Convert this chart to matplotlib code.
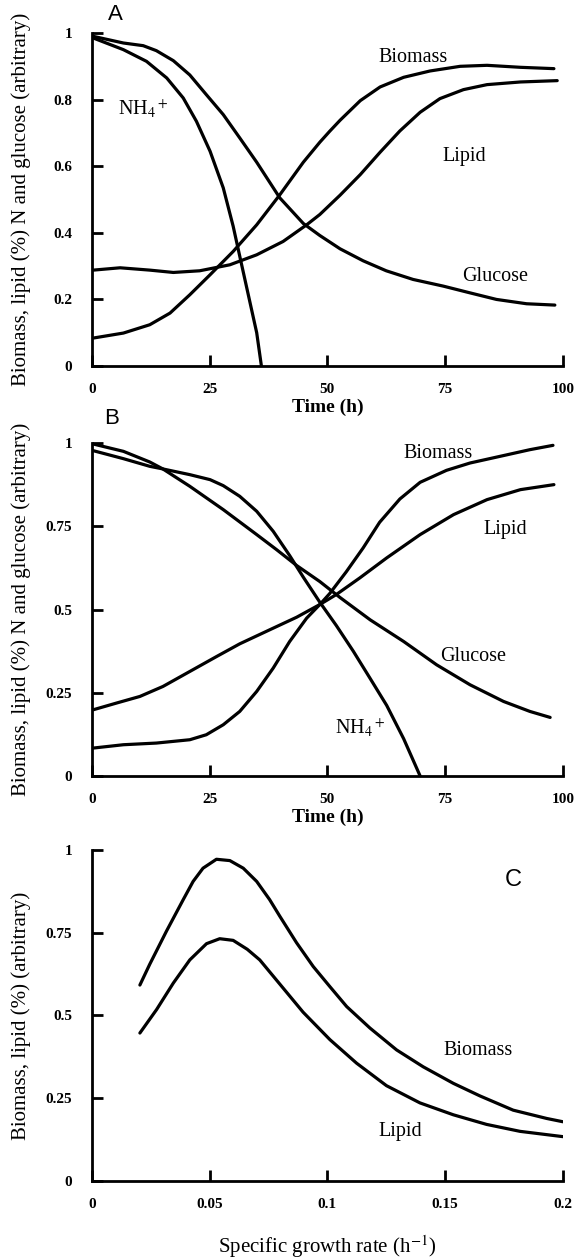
import matplotlib
matplotlib.use("Agg")
import matplotlib.pyplot as plt

plt.rcParams['font.family'] = ['Liberation Serif', 'DejaVu Serif']
plt.rcParams['mathtext.fontset'] = 'stix'

# panel A: batch culture (time in h)
a_nh4_t = [0.3, 6.7, 11.6, 15.9, 19.4, 22.2, 25.1, 27.9, 30.0, 31.4, 33.2, 35.0, 36.0]
a_nh4 = [0.985, 0.95, 0.915, 0.865, 0.805, 0.735, 0.645, 0.535, 0.42, 0.33, 0.215, 0.10, 0.0]
a_glu_t = [0.3, 6.7, 10.9, 13.7, 17.3, 20.8, 24.3, 27.9, 31.4, 35.0, 39.9, 44.9, 48.4, 52.7, 57.6,
           62.5, 68.2, 74.6, 80.2, 85.9, 92.3, 98.3]
a_glu = [0.99, 0.97, 0.962, 0.947, 0.917, 0.874, 0.815, 0.755, 0.685, 0.612, 0.505, 0.428, 0.392, 0.352, 0.316,
         0.286, 0.26, 0.24, 0.22, 0.20, 0.187, 0.183]
a_bio_t = [0.3, 6.7, 12.3, 16.6, 20.8, 25.1, 30.0, 35.0, 39.9, 44.9, 48.4, 50.5, 52.7, 57.0, 61.2,
           66.2, 71.8, 78.2, 83.9, 91.0, 98.1]
a_bio = [0.084, 0.099, 0.124, 0.159, 0.214, 0.274, 0.344, 0.424, 0.514, 0.612, 0.672, 0.705, 0.738, 0.797, 0.838,
         0.867, 0.886, 0.90, 0.903, 0.897, 0.893]
a_lip_t = [0.3, 6.0, 12.3, 17.3, 22.9, 29.3, 35.0, 40.6, 45.6, 48.4, 52.7, 57.0, 61.2, 65.4, 69.7,
           73.9, 78.9, 83.9, 91.0, 98.8]
a_lip = [0.288, 0.295, 0.288, 0.281, 0.286, 0.304, 0.334, 0.374, 0.424, 0.455, 0.513, 0.575, 0.642, 0.706, 0.762,
         0.803, 0.83, 0.845, 0.853, 0.857]

# panel B
b_nh4_t = [0.3, 6.7, 12.3, 14.8, 20.8, 25.1, 27.9, 31.4, 35.0, 38.5, 42.0, 44.9, 48.4, 51.9, 55.5,
           59.0, 62.6, 66.2, 69.7]
b_nh4 = [0.977, 0.953, 0.93, 0.923, 0.905, 0.89, 0.872, 0.84, 0.795, 0.735, 0.662, 0.597, 0.522, 0.452, 0.375,
         0.295, 0.212, 0.112, 0.0]
b_glu_t = [0.3, 6.7, 12.3, 15.1, 20.8, 27.9, 35.0, 39.2, 43.5, 48.4, 52.7, 59.1, 66.2, 73.2, 80.3,
           87.4, 93.0, 97.3]
b_glu = [0.997, 0.975, 0.943, 0.922, 0.87, 0.80, 0.725, 0.68, 0.632, 0.584, 0.536, 0.469, 0.404, 0.334, 0.274,
         0.224, 0.194, 0.176]
b_bio_t = [0.3, 6.7, 13.7, 20.8, 24.3, 27.9, 31.4, 35.0, 38.5, 42.0, 45.6, 48.4, 50.5, 54.0, 57.6,
           61.1, 65.4, 69.7, 75.3, 80.3, 87.3, 93.0, 97.9]
b_bio = [0.084, 0.094, 0.099, 0.109, 0.124, 0.154, 0.194, 0.254, 0.324, 0.404, 0.474, 0.515, 0.548, 0.613, 0.685,
         0.762, 0.832, 0.882, 0.918, 0.94, 0.962, 0.98, 0.993]
b_lip_t = [0.3, 5.2, 10.2, 15.1, 20.8, 26.5, 31.4, 38.5, 43.5, 48.4, 51.9, 56.9, 62.6, 69.7, 76.8,
           83.9, 91.0, 98.1]
b_lip = [0.199, 0.219, 0.239, 0.269, 0.314, 0.359, 0.397, 0.444, 0.477, 0.515, 0.545, 0.595, 0.655, 0.725, 0.785,
         0.83, 0.86, 0.875]

# panel C: chemostat (specific growth rate in 1/h)
c_bio_mu = [0.0204, 0.0246, 0.0317, 0.0388, 0.0430, 0.0472, 0.0529, 0.0586, 0.0643, 0.0700, 0.0755, 0.0798,
            0.0869, 0.0940, 0.1011, 0.1082, 0.1181, 0.1294, 0.1407, 0.1535, 0.1648, 0.1789, 0.1931, 0.2]
c_bio = [0.592, 0.655, 0.755, 0.85, 0.905, 0.945, 0.972, 0.968, 0.945, 0.905, 0.85, 0.80,
         0.72, 0.648, 0.587, 0.527, 0.462, 0.396, 0.345, 0.295, 0.257, 0.214, 0.189, 0.179]
c_lip_mu = [0.0204, 0.0275, 0.0346, 0.0416, 0.0487, 0.0543, 0.0600, 0.0660, 0.0713, 0.0798, 0.0897, 0.1011,
            0.1124, 0.1251, 0.1393, 0.1535, 0.1676, 0.1818, 0.2]
c_lip = [0.447, 0.518, 0.598, 0.668, 0.717, 0.732, 0.727, 0.70, 0.668, 0.595, 0.51, 0.427,
         0.356, 0.288, 0.236, 0.20, 0.171, 0.15, 0.134]

time_ticks = [0, 25, 50, 75, 100]
time_ticklabels = ['0', '25', '50', '75', '100']
a_yticks = [0, 0.2, 0.4, 0.6, 0.8, 1]
a_yticklabels = ['0', '0.2', '0.4', '0.6', '0.8', '1']
q_yticks = [0, 0.25, 0.5, 0.75, 1]
q_yticklabels = ['0', '0.25', '0.5', '0.75', '1']
mu_ticks = [0, 0.05, 0.1, 0.15, 0.2]
mu_ticklabels = ['0', '0.05', '0.1', '0.15', '0.2']

ylab_full = 'Biomass, lipid (%) N and glucose (arbitrary)'
ylab_c = 'Biomass, lipid (%) (arbitrary)'

fig = plt.figure(figsize=(5.74, 12.6), dpi=100)
ax_a = fig.add_axes([0.160, 0.7095, 0.8206, 0.2643])
ax_b = fig.add_axes([0.160, 0.3841, 0.8206, 0.2643])
ax_c = fig.add_axes([0.160, 0.0627, 0.8206, 0.2627])

lw = 2.3
fs = 14.5


def style(ax, xt, xtl, yt, ytl):
    for s in ['top', 'right']:
        ax.spines[s].set_visible(False)
    for s in ['left', 'bottom']:
        ax.spines[s].set_linewidth(2.0)
    ax.set_xticks(xt)
    ax.set_xticklabels(xtl, fontweight='bold', fontsize=11)
    ax.set_yticks(yt)
    ax.set_yticklabels(ytl, fontweight='bold', fontsize=11)
    ax.tick_params(axis='x', direction='in', length=8, width=2, pad=12)
    ax.tick_params(axis='y', direction='in', length=8, width=2, pad=14)
    ax.yaxis.set_label_coords(-0.13, 0.5)


def curve(ax, x, y):
    ax.plot(x, y, color='black', lw=lw, solid_joinstyle='round', solid_capstyle='round')


# A
curve(ax_a, a_nh4_t, a_nh4)
curve(ax_a, a_glu_t, a_glu)
curve(ax_a, a_bio_t, a_bio)
curve(ax_a, a_lip_t, a_lip)
ax_a.set_xlim(0, 100)
ax_a.set_ylim(0, 1)
style(ax_a, time_ticks, time_ticklabels, a_yticks, a_yticklabels)
ax_a.set_xlabel('Time (h)', fontsize=14, fontweight='bold', labelpad=2)
ax_a.set_ylabel(ylab_full, fontsize=15)
ax_a.text(4.9, 1.055, 'A', family='Liberation Sans', fontsize=16, ha='center', va='center', clip_on=False)
ax_a.text(10.9, 0.77, r'NH$_4$$^+$', fontsize=fs, ha='center', va='center')
ax_a.text(68.2, 0.925, 'Biomass', fontsize=fs, ha='center', va='center')
ax_a.text(79, 0.63, 'Lipid', fontsize=fs, ha='center', va='center')
ax_a.text(85.6, 0.27, 'Glucose', fontsize=fs, ha='center', va='center')

# B
curve(ax_b, b_nh4_t, b_nh4)
curve(ax_b, b_glu_t, b_glu)
curve(ax_b, b_bio_t, b_bio)
curve(ax_b, b_lip_t, b_lip)
ax_b.set_xlim(0, 100)
ax_b.set_ylim(0, 1)
style(ax_b, time_ticks, time_ticklabels, q_yticks, q_yticklabels)
ax_b.set_xlabel('Time (h)', fontsize=14, fontweight='bold', labelpad=2)
ax_b.set_ylabel(ylab_full, fontsize=15)
ax_b.text(4.2, 1.075, 'B', family='Liberation Sans', fontsize=16, ha='center', va='center', clip_on=False)
ax_b.text(57, 0.144, r'NH$_4$$^+$', fontsize=fs, ha='center', va='center')
ax_b.text(73.5, 0.97, 'Biomass', fontsize=fs, ha='center', va='center')
ax_b.text(87.7, 0.74, 'Lipid', fontsize=fs, ha='center', va='center')
ax_b.text(81, 0.36, 'Glucose', fontsize=fs, ha='center', va='center')

# C
curve(ax_c, c_bio_mu, c_bio)
curve(ax_c, c_lip_mu, c_lip)
ax_c.set_xlim(0, 0.2)
ax_c.set_ylim(0, 1)
style(ax_c, mu_ticks, mu_ticklabels, q_yticks, q_yticklabels)
ax_c.set_xlabel(r'Specific growth rate (h$^{-1}$)', fontsize=15, labelpad=16)
ax_c.set_ylabel(ylab_c, fontsize=15)
ax_c.text(0.179, 0.91, 'C', family='Liberation Sans', fontsize=17, ha='center', va='center')
ax_c.text(0.164, 0.395, 'Biomass', fontsize=fs, ha='center', va='center')
ax_c.text(0.131, 0.149, 'Lipid', fontsize=fs, ha='center', va='center')

fig.savefig('out.png', dpi=100)
